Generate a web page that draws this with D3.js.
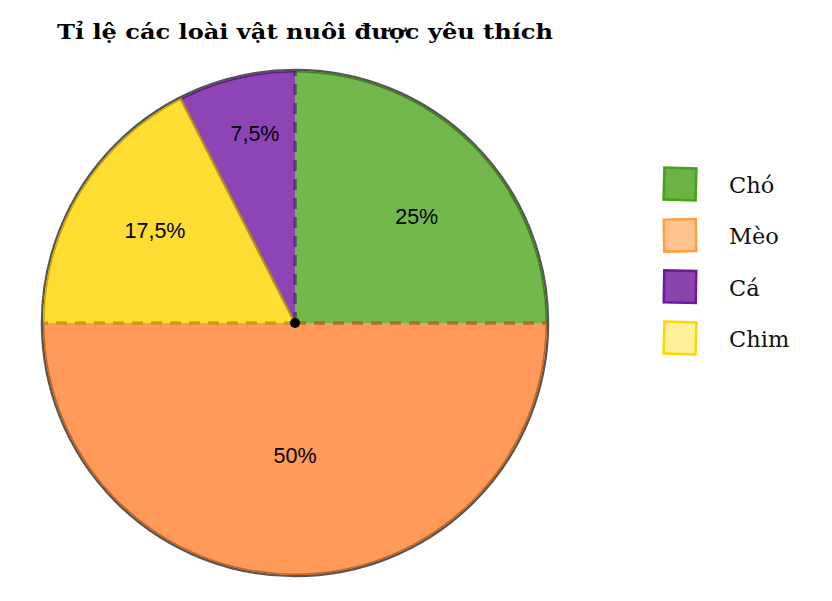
<!DOCTYPE html>
<html><head><meta charset="utf-8">
<script src="https://cdn.jsdelivr.net/npm/d3@7"></script>
<style>body{margin:0;background:#fff}</style>
</head><body>
<svg id="c" width="832" height="601"></svg>
<script>
const categories = ["Chó", "Mèo", "Chim", "Cá"];
const values = [25, 50, 17.5, 7.5];
const labels = ["25%", "50%", "17,5%", "7,5%"];
const legendOrder = ["Chó", "Mèo", "Cá", "Chim"];
const title = "Tỉ lệ các loài vật nuôi được yêu thích";

const fills = {"Chó":"#72b84c","Mèo":"#ff9a5a","Chim":"#ffdd33","Cá":"#8e44b5"};
const edges = {"Chó":"#3f7f1a","Mèo":"#c8621a","Chim":"#c9a300","Cá":"#5a1a80"};
const dashCol = {"Chó":"#4e2a6a","Mèo":"#a8601a","Chim":"#c0920c","Cá":"#4e2a6a"};
const legFill = {"Chó":"#6ab446","Mèo":"#ffc38f","Cá":"#8a44ad","Chim":"#fff09a"};
const legStroke = {"Chó":"#46a01a","Mèo":"#ff9f40","Cá":"#6a1a9a","Chim":"#ffd500"};
const labelR = {"Chó":0.643,"Mèo":0.524,"Chim":0.667,"Cá":0.77};
const labelShift = {"Chó":3.7,"Mèo":0,"Chim":2.1,"Cá":1.6};

const svg = d3.select("#c");
const cx = 295, cy = 323, R = 252;

svg.append("text").attr("x", 57).attr("y", 39)
  .attr("font-family", "'DejaVu Serif', 'Liberation Serif', serif")
  .attr("font-weight", "bold").attr("font-size", 21)
  .attr("textLength", 496).attr("lengthAdjust", "spacingAndGlyphs")
  .text(title);

const g = svg.append("g").attr("transform", `translate(${cx},${cy})`);
const pie = d3.pie().sort(null).value(d => d.v);
const data = pie(categories.map((c, i) => ({c, v: values[i], l: labels[i]})));
const arc = d3.arc().innerRadius(0).outerRadius(R);

g.append("circle").attr("r", R + 1).attr("fill", "none")
  .attr("stroke", "#555").attr("stroke-width", 2.5);

g.selectAll("path.s").data(data).join("path").attr("class", "s")
  .attr("d", arc).attr("fill", d => fills[d.data.c]).attr("stroke", "none");

const rim = d3.arc().innerRadius(R - 1.5).outerRadius(R);
g.selectAll("path.r").data(data).join("path").attr("class", "r")
  .attr("d", rim).attr("fill", d => edges[d.data.c]);

const radii = data.map(d => ({a: d.startAngle, c: d.data.c}));
g.selectAll("line.rad").data(radii).join("line").attr("class", "rad")
  .attr("x1", 0).attr("y1", 0)
  .attr("x2", d => R * Math.sin(d.a)).attr("y2", d => -R * Math.cos(d.a))
  .attr("stroke", d => d.c === "Cá" ? "#b88a10" : dashCol[d.c])
  .attr("stroke-opacity", d => d.c === "Cá" ? 0.9 : 0.75)
  .attr("stroke-width", d => d.c === "Cá" ? 2.4 : 3.5)
  .attr("stroke-dasharray", d => d.c === "Cá" ? null : "11,8");

g.append("circle").attr("r", 5).attr("fill", "#000");

g.selectAll("text.lab").data(data).join("text").attr("class", "lab")
  .attr("x", d => { const a = (d.startAngle + d.endAngle) / 2 + labelShift[d.data.c] * Math.PI / 180; return R * labelR[d.data.c] * Math.sin(a); })
  .attr("y", d => { const a = (d.startAngle + d.endAngle) / 2 + labelShift[d.data.c] * Math.PI / 180; return -R * labelR[d.data.c] * Math.cos(a); })
  .attr("dy", "0.35em").attr("text-anchor", "middle")
  .attr("font-family", "'Liberation Sans', Arial, sans-serif").attr("font-size", 21.5)
  .attr("fill", "#000").text(d => d.data.l);

const ly = d3.scalePoint().domain(legendOrder).range([184, 338]);
const leg = svg.append("g");
const rot = {"Chó":1.5,"Mèo":-1,"Cá":1,"Chim":1.5};
leg.selectAll("rect").data(legendOrder).join("rect")
  .attr("x", -16).attr("y", -16).attr("width", 32).attr("height", 32)
  .attr("transform", d => `translate(680,${ly(d)}) rotate(${rot[d]})`)
  .attr("fill", d => legFill[d]).attr("stroke", d => legStroke[d]).attr("stroke-width", 2.5);
leg.selectAll("text").data(legendOrder).join("text")
  .attr("x", 729).attr("y", d => ly(d) + 1).attr("dy", "0.35em")
  .attr("font-family", "'DejaVu Serif', 'Liberation Serif', serif").attr("font-size", 22.5)
  .attr("fill", "#111").text(d => d);
</script>
</body></html>
